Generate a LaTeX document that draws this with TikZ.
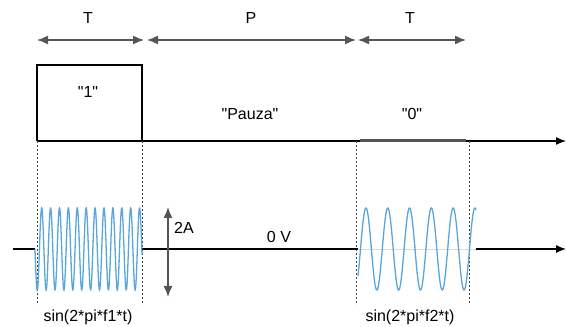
\documentclass[tikz,border=0pt]{standalone}
\usepackage{fontspec}
\setmainfont{Liberation Sans}
\usepackage{tikz}
\usepackage{xcolor}
\usetikzlibrary{arrows.meta, positioning, calc}
\definecolor{darkline}{HTML}{555555}
\definecolor{guidegray}{HTML}{444444}
\definecolor{wavesky}{HTML}{5AA5DC}

\begin{document}
\begin{tikzpicture}[x=1pt, y=1pt,
            lbl/.style={inner sep=0pt, font=\fontsize{16}{18}\selectfont},
            span/.style={darkline, line width=1.5pt, {Latex[length=11pt,width=9pt]}-{Latex[length=11pt,width=9pt]}},
            pulse/.style={black, line width=2.2pt},
            axisline/.style={black, line width=1.3pt},
            guide/.style={guidegray, line width=0.6pt, dash pattern=on 2pt off 2pt},
            wave/.style={wavesky, line width=1.3pt}]
            \useasboundingbox (0,0) rectangle (566,327);
            % durations on top
            \coordinate (t1a) at (37,287);
            \coordinate (t1b) at (144,287);
            \coordinate (pa) at (147,287);
            \coordinate (pb) at (356,287);
            \coordinate (t2a) at (358,287);
            \coordinate (t2b) at (466,287);
            \draw[span] (t1a) -- (t1b);
            \draw[span] (pa) -- (pb);
            \draw[span] (t2a) -- (t2b);
            \node[lbl] (tlab1) at (88,309) {T};
            \node[lbl] (plab) at (251,309) {P};
            \node[lbl] (tlab2) at (410,309) {T};
            % bit sequence
            \coordinate (b0) at (37,186);
            \coordinate (b1) at (142,186);
            \coordinate (b2) at (360,186);
            \coordinate (b3) at (466,186);
            \coordinate (bend) at (566,186);
            \draw[axisline, -{Latex[length=10pt,width=8pt]}] (b0) -- (bend);
            \draw[pulse] (b0) |- (142,262) -- (b1);
            \draw[darkline, line width=3pt] (b2) -- (b3);
            \node[lbl] (one) at (88,235) {\textquotedbl1\textquotedbl};
            \node[lbl] (pauza) at (250,213) {\textquotedbl Pauza\textquotedbl};
            \node[lbl] (zero) at (412,213) {\textquotedbl0\textquotedbl};
            % guides
            \foreach \gx/\gn in {37/g1, 142/g2, 356/g3, 469/g4} {
                \coordinate (\gn top) at (\gx,186);
                \coordinate (\gn bot) at (\gx,22);
                \draw[guide] (\gn top) -- (\gn bot);
            }
            % modulated signal
            \coordinate (a0) at (13,78);
            \coordinate (a1) at (35,78);
            \coordinate (a2) at (142,78);
            \coordinate (a3) at (358,78);
            \coordinate (a4) at (476,78);
            \coordinate (aend) at (566,78);
            \draw[axisline] (a0) -- (a1);
            \draw[axisline] (a2) -- (a3);
            \draw[axisline, -{Latex[length=10pt,width=8pt]}] (a4) -- (aend);
            \draw[black!15, line width=0.6pt] (a3) -- (a4);
            \draw[wave] plot[domain=35:142, samples=500, smooth] (\x, {78-41*sin(360/8.9*(\x-35))});
            \draw[wave] plot[domain=358:476, samples=300, smooth] (\x, {78+41*sin(360/21.8*(\x-360.5))});
            \coordinate (amptop) at (168,120);
            \coordinate (ampbot) at (168,30);
            \draw[span] (amptop) -- (ampbot);
            \node[lbl, anchor=west] (amp) at (174,99) {2A};
            \node[lbl] (zerov) at (279,90) {0 V};
            \node[lbl] (sin1) at (88,10) {sin(2*pi*f1*t)};
            \node[lbl] (sin2) at (410,10) {sin(2*pi*f2*t)};
        \end{tikzpicture}
\end{document}
